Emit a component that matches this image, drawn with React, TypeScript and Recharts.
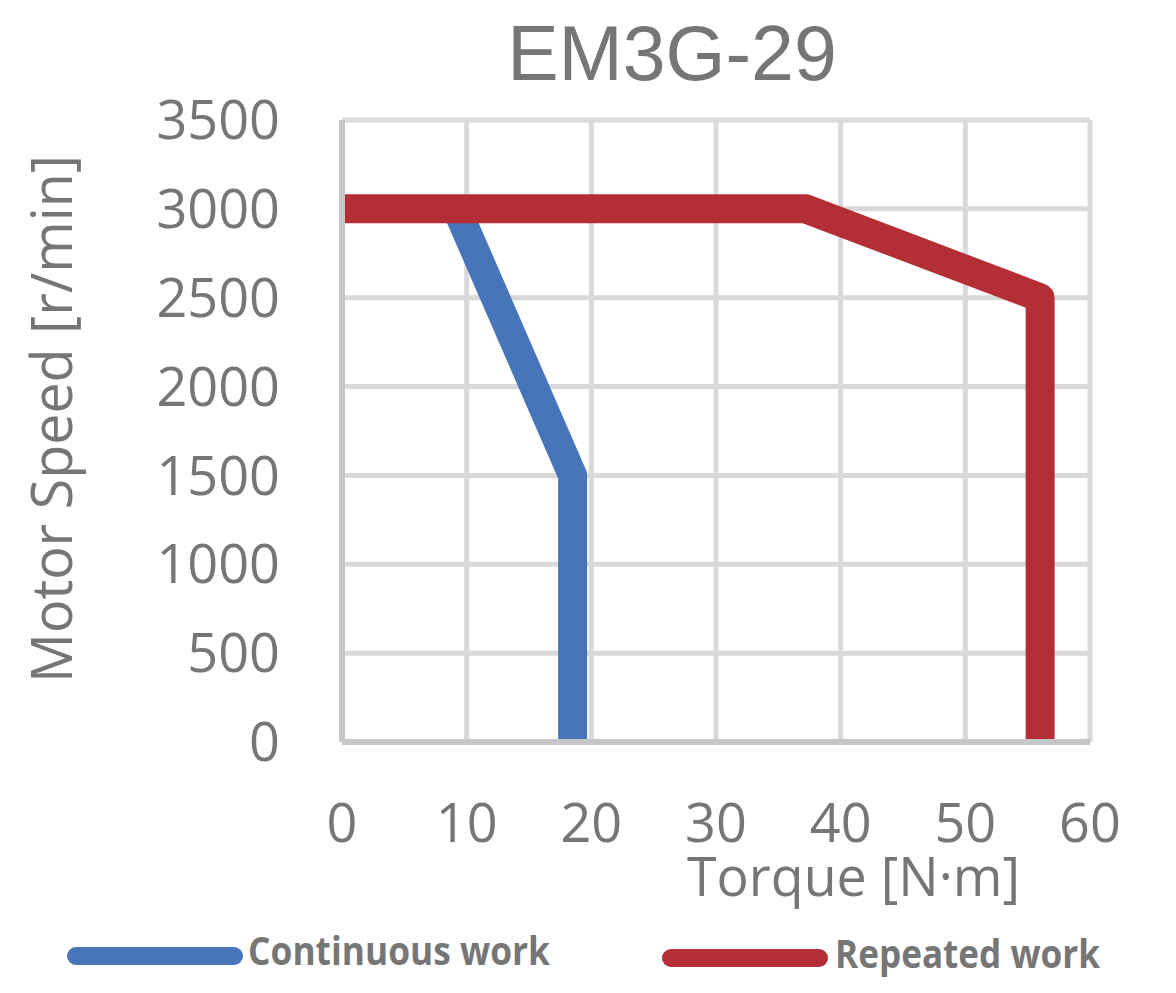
import { LineChart, Line, XAxis, YAxis, CartesianGrid } from 'recharts'

// torque [N·m] / speed [r/min]
const continuousTorque = [9.2, 18.5, 18.5]
const continuousSpeed = [3000, 1500, 0]
const repeatedTorque = [0, 37.2, 56, 56]
const repeatedSpeed = [3000, 3000, 2500, 0]

const torqueTicks = [0, 10, 20, 30, 40, 50, 60]
const speedTicks = [0, 500, 1000, 1500, 2000, 2500, 3000, 3500]

const continuousData = continuousTorque.map((torque, i) => ({ torque, speed: continuousSpeed[i] }))
const repeatedData = repeatedTorque.map((torque, i) => ({ torque, speed: repeatedSpeed[i] }))

const GREY = '#767676'
const BLUE = '#4775b9'
const RED = '#b42e36'
const TICK_FONT = { fill: GREY, fontSize: 54, fontFamily: 'Open Sans' }

export default function App() {
  return (
    <div style={{ position: 'absolute', left: 0, top: 0, width: 1176, height: 993, background: '#fff' }}>
      <LineChart
        width={1176}
        height={993}
        margin={{ top: 120, right: 86, bottom: 91, left: 0 }}
      >
        <CartesianGrid stroke="#d9d9d9" strokeWidth={5} />
        <XAxis
          dataKey="torque"
          type="number"
          domain={[0, 60]}
          ticks={torqueTicks}
          height={160}
          tick={TICK_FONT}
          tickLine={false}
          tickSize={0}
          tickMargin={62}
          axisLine={{ stroke: '#c6c6c8', strokeWidth: 6 }}
        />
        <YAxis
          dataKey="speed"
          type="number"
          domain={[0, 3500]}
          ticks={speedTicks}
          width={342}
          tick={TICK_FONT}
          tickLine={false}
          tickSize={0}
          tickMargin={62}
          axisLine={{ stroke: '#c6c6c8', strokeWidth: 6 }}
        />
        <Line
          data={continuousData}
          dataKey="speed"
          stroke={BLUE}
          strokeWidth={29}
          strokeLinejoin="round"
          strokeLinecap="butt"
          dot={false}
          activeDot={false}
          isAnimationActive={false}
        />
        <Line
          data={repeatedData}
          dataKey="speed"
          stroke={RED}
          strokeWidth={29}
          strokeLinejoin="round"
          strokeLinecap="butt"
          dot={false}
          activeDot={false}
          isAnimationActive={false}
        />
      </LineChart>
      <svg
        width={1176}
        height={993}
        style={{ position: 'absolute', left: 0, top: 0, pointerEvents: 'none' }}
      >
        <text x={672} y={80} textAnchor="middle" fill={GREY} fontSize={77} fontFamily="Liberation Sans">
          EM3G-29
        </text>
        <text
          transform="translate(72,419) rotate(-90)"
          textAnchor="middle"
          fill={GREY}
          fontSize={56}
          fontFamily="Open Sans"
          textLength={528}
          lengthAdjust="spacingAndGlyphs"
        >
          Motor Speed [r/min]
        </text>
        <text
          x={687}
          y={896}
          fill={GREY}
          fontSize={54}
          fontFamily="Open Sans"
          textLength={333}
          lengthAdjust="spacingAndGlyphs"
        >
          Torque [N·m]
        </text>
        <line x1={76} y1={956} x2={234} y2={956} stroke={BLUE} strokeWidth={18} strokeLinecap="round" />
        <text
          x={248}
          y={965}
          fill={GREY}
          fontSize={39}
          fontWeight="bold"
          fontFamily="Open Sans"
          textLength={302}
          lengthAdjust="spacingAndGlyphs"
        >
          Continuous work
        </text>
        <line x1={671} y1={958} x2={819} y2={958} stroke={RED} strokeWidth={18} strokeLinecap="round" />
        <text
          x={835}
          y={968}
          fill={GREY}
          fontSize={39}
          fontWeight="bold"
          fontFamily="Open Sans"
          textLength={265}
          lengthAdjust="spacingAndGlyphs"
        >
          Repeated work
        </text>
      </svg>
    </div>
  )
}
